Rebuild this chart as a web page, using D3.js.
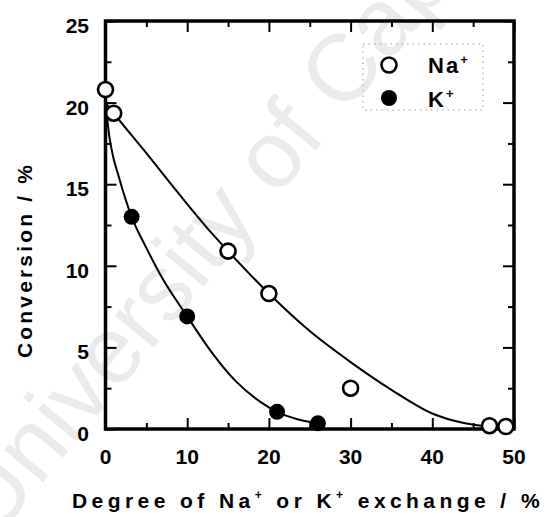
<!DOCTYPE html>
<html>
<head>
<meta charset="utf-8">
<script src="https://cdn.jsdelivr.net/npm/d3@7"></script>
<style>
  body { margin: 0; background: #fff; }
  svg text { font-family: "Liberation Sans", Arial, Helvetica, sans-serif; }
</style>
</head>
<body>
<svg id="chart" width="556" height="517"></svg>
<script>
// Measured points: Na+ exchanged samples (open) and K+ exchanged samples (filled)
const naX = [0, 1, 15, 20, 30, 47, 49];
const naY = [20.8, 19.35, 10.9, 8.3, 2.5, 0.2, 0.15];
const kX = [3.2, 10, 21, 26];
const kY = [13.0, 6.9, 1.05, 0.35];

// Trend lines drawn through each series
const naFitX = [0, 1, 5, 9, 13, 15, 20, 25, 30, 35, 40, 44, 47];
const naFitY = [20.0, 19.35, 16.9, 14.4, 12.0, 10.9, 8.3, 6.0, 4.1, 2.4, 0.95, 0.35, 0.15];
const kFitX = [0, 0.3, 0.8, 1.6, 3.2, 5, 7, 10, 13, 16, 19, 21, 23.5, 26];
const kFitY = [20.6, 18.6, 17.0, 15.5, 13.0, 11.1, 9.2, 6.9, 4.7, 2.9, 1.65, 1.05, 0.6, 0.35];

// Tick values
const xMajor = [0, 10, 20, 30, 40, 50];
const xMinor = [5, 15, 25, 35, 45];
const yMajor = [0, 5, 10, 15, 20, 25];
const yMinor = [2.5, 7.5, 12.5, 17.5, 22.5];

const svg = d3.select("#chart");
const plotL = 105.5, plotR = 514, plotT = 21, plotB = 429;

const x = d3.scaleLinear().domain([0, 50]).range([plotL, plotR]);
const y = d3.scaleLinear().domain([0, 25]).range([plotB, plotT]);

// Background watermark
svg.append("text")
  .attr("transform", "translate(-5,540) rotate(-50.5)")
  .attr("font-size", 95)
  .attr("fill", "#eaeaea")
  .text("University of Cape Town");

// Ticks on all four sides, pointing inward
function tickGroup(axisFn, scale, values, size, transform) {
  const g = svg.append("g")
    .attr("transform", transform)
    .call(axisFn(scale).tickValues(values).tickSize(size).tickFormat(""));
  g.select(".domain").remove();
  g.selectAll(".tick line").attr("stroke", "#000").attr("stroke-width", 2);
  return g;
}
tickGroup(d3.axisBottom, x, xMajor, -11, `translate(0,${plotB})`);
tickGroup(d3.axisBottom, x, xMinor, -6, `translate(0,${plotB})`);
tickGroup(d3.axisTop, x, xMajor, -11, `translate(0,${plotT})`);
tickGroup(d3.axisTop, x, xMinor, -6, `translate(0,${plotT})`);
tickGroup(d3.axisLeft, y, yMajor, -11, `translate(${plotL},0)`);
tickGroup(d3.axisLeft, y, yMinor, -6, `translate(${plotL},0)`);
tickGroup(d3.axisRight, y, yMajor, -11, `translate(${plotR},0)`);
tickGroup(d3.axisRight, y, yMinor, -6, `translate(${plotR},0)`);

// Frame
svg.append("rect")
  .attr("x", plotL).attr("y", plotT)
  .attr("width", plotR - plotL).attr("height", plotB - plotT)
  .attr("fill", "none").attr("stroke", "#000").attr("stroke-width", 3.5);

// Tick labels
const labelFont = { size: 21, weight: "bold" };
svg.append("g").selectAll("text").data(xMajor).join("text")
  .attr("x", d => x(d)).attr("y", 464)
  .attr("text-anchor", "middle")
  .attr("font-size", labelFont.size).attr("font-weight", labelFont.weight)
  .text(d => d);
svg.append("g").selectAll("text").data(yMajor).join("text")
  .attr("x", 89).attr("y", d => y(d) + 12)
  .attr("text-anchor", "end")
  .attr("font-size", labelFont.size).attr("font-weight", labelFont.weight)
  .text(d => d);

// Trend lines
const line = d3.line().x(d => x(d[0])).y(d => y(d[1])).curve(d3.curveMonotoneX);
svg.append("path")
  .datum(naFitX.map((v, i) => [v, naFitY[i]]))
  .attr("d", line).attr("fill", "none").attr("stroke", "#000").attr("stroke-width", 2);
svg.append("path")
  .datum(kFitX.map((v, i) => [v, kFitY[i]]))
  .attr("d", line).attr("fill", "none").attr("stroke", "#000").attr("stroke-width", 2);

// Markers
svg.append("g").selectAll("circle").data(naX.map((v, i) => [v, naY[i]])).join("circle")
  .attr("cx", d => x(d[0])).attr("cy", d => y(d[1])).attr("r", 7.5)
  .attr("fill", "#fff").attr("stroke", "#000").attr("stroke-width", 2.6);
svg.append("g").selectAll("circle").data(kX.map((v, i) => [v, kY[i]])).join("circle")
  .attr("cx", d => x(d[0])).attr("cy", d => y(d[1])).attr("r", 8)
  .attr("fill", "#000");

// Legend
const legend = svg.append("g");
legend.append("rect")
  .attr("x", 363).attr("y", 44).attr("width", 120).attr("height", 66)
  .attr("fill", "none").attr("stroke", "#999").attr("stroke-width", 1)
  .attr("stroke-dasharray", "1.5,4");
legend.append("circle").attr("cx", 389).attr("cy", 65).attr("r", 7.5)
  .attr("fill", "#fff").attr("stroke", "#000").attr("stroke-width", 2.6);
legend.append("circle").attr("cx", 389).attr("cy", 98).attr("r", 8)
  .attr("fill", "#000");

function ionLabel(g, xPos, yPos, base) {
  const t = g.append("text").attr("x", xPos).attr("y", yPos)
    .attr("font-size", 22).attr("font-weight", "bold").attr("letter-spacing", 2);
  t.append("tspan").text(base);
  t.append("tspan").attr("dy", -9).attr("font-size", 13).text("+");
  return t;
}
ionLabel(legend, 428, 73, "Na");
ionLabel(legend, 428, 107, "K");

// Axis titles, spread to fill their span
function fitSpacing(sel, target) {
  const node = sel.node();
  const n = node.textContent.length;
  sel.attr("letter-spacing", 0);
  const w = node.getComputedTextLength();
  sel.attr("letter-spacing", (target - w) / n);
}

const xTitle = svg.append("text")
  .attr("x", 72).attr("y", 508)
  .attr("font-size", 21).attr("font-weight", "bold");
xTitle.append("tspan").text("Degree of Na");
xTitle.append("tspan").attr("dy", -9).attr("font-size", 12).text("+");
xTitle.append("tspan").attr("dy", 9).text(" or K");
xTitle.append("tspan").attr("dy", -9).attr("font-size", 12).text("+");
xTitle.append("tspan").attr("dy", 9).text(" exchange / %");
fitSpacing(xTitle, 472);

const yTitle = svg.append("text")
  .attr("transform", "translate(32,358) rotate(-90)")
  .attr("font-size", 21).attr("font-weight", "bold")
  .text("Conversion / %");
fitSpacing(yTitle, 196);
</script>
</body>
</html>
